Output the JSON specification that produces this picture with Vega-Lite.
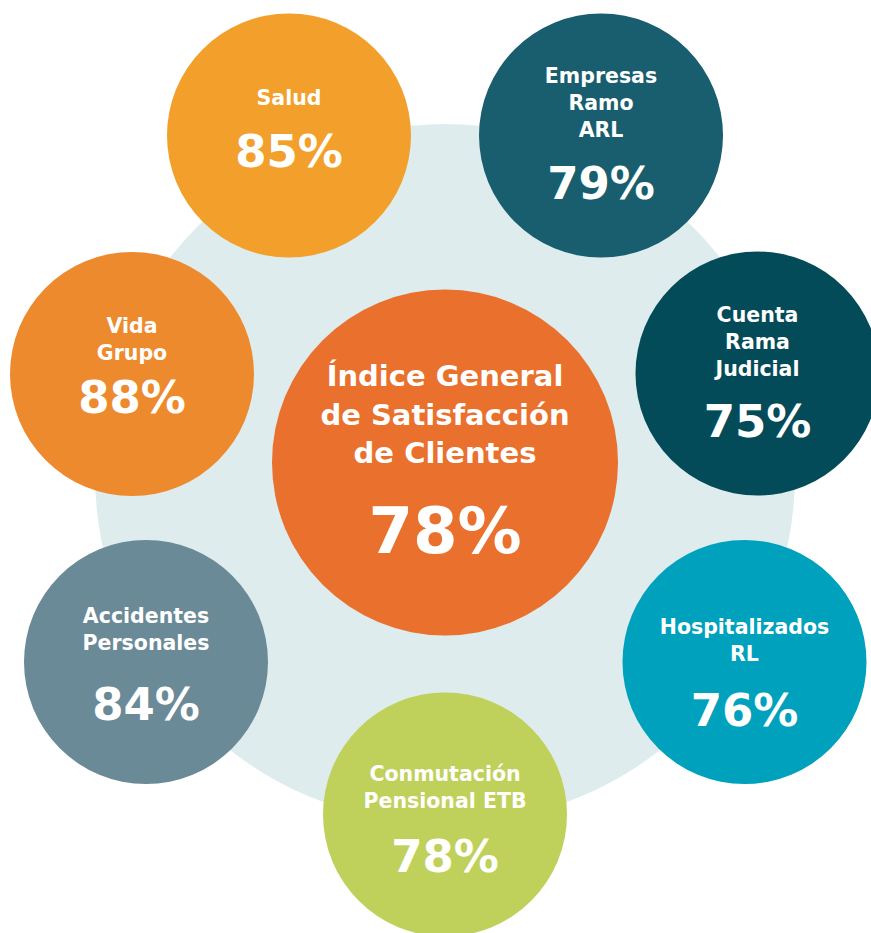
{
  "$schema": "https://vega.github.io/schema/vega-lite/v6.json",
  "width": 871,
  "height": 933,
  "padding": 0,
  "autosize": "none",
  "background": "#ffffff",
  "config": {"view": {"stroke": null}},
  "data": {
    "values": [
      {"i": 0, "name": "Índice General de Satisfacción de Clientes", "label": "Índice General\nde Satisfacción\nde Clientes", "value": 0.78},
      {"i": 1, "name": "Salud", "label": "Salud", "value": 0.85},
      {"i": 2, "name": "Empresas Ramo ARL", "label": "Empresas\nRamo\nARL", "value": 0.79},
      {"i": 3, "name": "Cuenta Rama Judicial", "label": "Cuenta\nRama\nJudicial", "value": 0.75},
      {"i": 4, "name": "Hospitalizados RL", "label": "Hospitalizados\nRL", "value": 0.76},
      {"i": 5, "name": "Conmutación Pensional ETB", "label": "Conmutación\nPensional ETB", "value": 0.78},
      {"i": 6, "name": "Accidentes Personales", "label": "Accidentes\nPersonales", "value": 0.84},
      {"i": 7, "name": "Vida Grupo", "label": "Vida\nGrupo", "value": 0.88}
    ]
  },
  "encoding": {
    "x": {
      "field": "i",
      "type": "quantitative",
      "axis": null,
      "scale": {"domain": [0, 1, 2, 3, 4, 5, 6, 7], "range": [445, 289, 601, 757.5, 744.5, 445, 146, 132], "nice": false, "zero": false}
    }
  },
  "layer": [
    {
      "encoding": {
        "y": {
          "field": "i",
          "type": "quantitative",
          "axis": null,
          "scale": {"domain": [0, 1, 2, 3, 4, 5, 6, 7], "range": [462.5, 135.5, 135.5, 373.5, 662, 814.5, 662, 374], "nice": false, "zero": false}
        }
      },
      "layer": [
        {
          "transform": [{"filter": "datum.i == 0"}],
          "mark": {"type": "point", "shape": "circle", "filled": true, "opacity": 1, "size": 490000, "color": "#DEECEE", "yOffset": 11.5}
        },
        {
          "mark": {"type": "point", "shape": "circle", "filled": true, "opacity": 1, "size": 59536},
          "transform": [{"filter": "datum.i > 0"}],
          "encoding": {
            "color": {
              "field": "name",
              "type": "nominal",
              "legend": null,
              "scale": {
                "domain": ["Índice General de Satisfacción de Clientes", "Salud", "Empresas Ramo ARL", "Cuenta Rama Judicial", "Hospitalizados RL", "Conmutación Pensional ETB", "Accidentes Personales", "Vida Grupo"],
                "range": ["#E9702D", "#F2A02B", "#185E6E", "#034B59", "#00A1BD", "#BFD15A", "#6B8A97", "#EE8A2E"]
              }
            }
          }
        },
        {
          "mark": {"type": "point", "shape": "circle", "filled": true, "opacity": 1, "size": 119716},
          "transform": [{"filter": "datum.i == 0"}],
          "encoding": {
            "color": {"field": "name", "type": "nominal", "legend": null}
          }
        }
      ]
    },
    {
      "encoding": {
        "y": {
          "field": "i",
          "type": "quantitative",
          "axis": null,
          "scale": {"domain": [0, 1, 2, 3, 4, 5, 6, 7], "range": [386, 105, 83.3, 321.7, 634, 780.7, 623.3, 333.3], "nice": false, "zero": false}
        },
        "text": {"field": "label", "type": "nominal"}
      },
      "layer": [
        {
          "transform": [{"filter": "datum.i > 0"}],
          "mark": {"type": "text", "font": "DejaVu Sans", "fontWeight": "bold", "fontSize": 20.5, "lineHeight": 27, "lineBreak": "\n", "align": "center", "baseline": "alphabetic", "color": "#ffffff"}
        },
        {
          "transform": [{"filter": "datum.i == 0"}],
          "mark": {"type": "text", "font": "DejaVu Sans", "fontWeight": "bold", "fontSize": 29, "lineHeight": 38.5, "lineBreak": "\n", "align": "center", "baseline": "alphabetic", "color": "#ffffff"}
        }
      ]
    },
    {
      "encoding": {
        "y": {
          "field": "i",
          "type": "quantitative",
          "axis": null,
          "scale": {"domain": [0, 1, 2, 3, 4, 5, 6, 7], "range": [553.3, 167, 199, 437, 726, 871.7, 720, 413.3], "nice": false, "zero": false}
        },
        "text": {"field": "value", "type": "quantitative", "format": ".0%"}
      },
      "layer": [
        {
          "transform": [{"filter": "datum.i > 0"}],
          "mark": {"type": "text", "font": "DejaVu Sans", "fontWeight": "bold", "fontSize": 45, "align": "center", "baseline": "alphabetic", "color": "#ffffff"}
        },
        {
          "transform": [{"filter": "datum.i == 0"}],
          "mark": {"type": "text", "font": "DejaVu Sans", "fontWeight": "bold", "fontSize": 64, "align": "center", "baseline": "alphabetic", "color": "#ffffff"}
        }
      ]
    }
  ],
  "resolve": {"scale": {"y": "independent"}}
}
